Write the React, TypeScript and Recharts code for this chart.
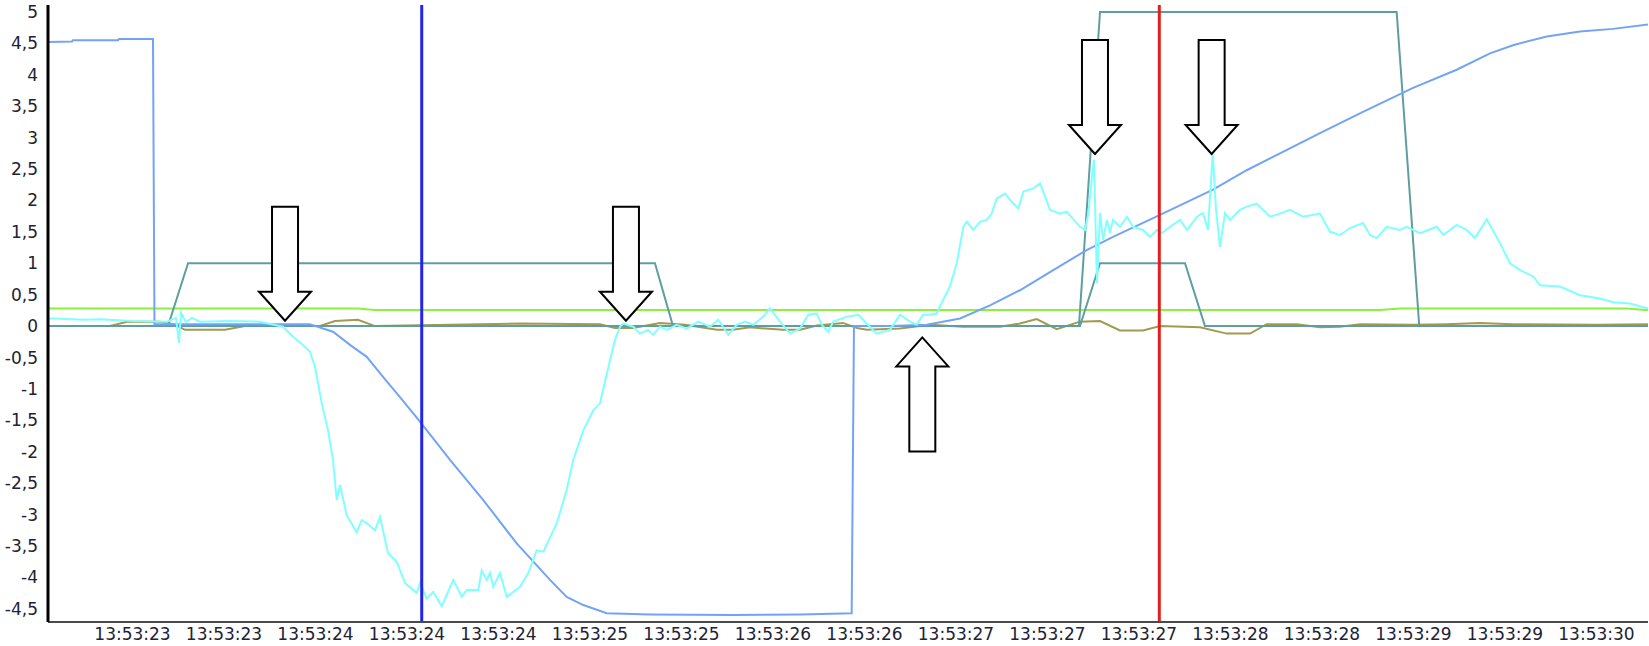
import React from "react";
import { LineChart, Line, XAxis, YAxis, ReferenceLine, ReferenceDot } from "recharts";

// x in tick-interval units (tick i <-> label i), y in signal units
const xTickLabels = [
  "13:53:23", "13:53:23", "13:53:24", "13:53:24", "13:53:24", "13:53:25",
  "13:53:25", "13:53:26", "13:53:26", "13:53:27", "13:53:27", "13:53:27",
  "13:53:28", "13:53:28", "13:53:29", "13:53:29", "13:53:30",
];
const xTicks = xTickLabels.map((_, i) => i);
const yTicks = [-4.5, -4, -3.5, -3, -2.5, -2, -1.5, -1, -0.5, 0, 0.5, 1, 1.5, 2, 2.5, 3, 3.5, 4, 4.5, 5];

const blueU = [-0.923, -0.661, -0.65, -0.158, -0.148, 0.224, 0.24, 1.94, 2.191, 2.377, 2.56, 2.738, 2.923, 3.131, 3.47, 3.834, 4.199, 4.563, 4.745, 4.927, 5.183, 5.656, 6.563, 7.295, 7.86, 7.885, 8.279, 8.68, 9.044, 9.372, 9.699, 10.063, 10.428, 10.716, 11.23, 11.809, 12.177, 12.541, 12.978, 13.448, 13.995, 14.472, 14.836, 15.087, 15.456, 15.82, 16.18, 16.563];
const blueV = [4.52, 4.53, 4.55, 4.55, 4.57, 4.57, 0.03, 0.03, -0.09, -0.3, -0.49, -0.81, -1.13, -1.5, -2.13, -2.77, -3.46, -4.04, -4.31, -4.44, -4.57, -4.59, -4.6, -4.59, -4.57, 0.0, 0.0, 0.02, 0.12, 0.33, 0.57, 0.89, 1.21, 1.42, 1.77, 2.17, 2.48, 2.75, 3.07, 3.41, 3.79, 4.08, 4.34, 4.47, 4.61, 4.69, 4.73, 4.8];

const cyanU = [-0.923, -0.847, -0.541, -0.355, 0.005, 0.377, 0.475, 0.508, 0.53, 0.585, 0.65, 0.738, 1.066, 1.393, 1.645, 1.754, 1.863, 1.94, 1.995, 2.068, 2.137, 2.191, 2.232, 2.268, 2.341, 2.45, 2.505, 2.56, 2.65, 2.705, 2.792, 2.887, 2.978, 3.106, 3.142, 3.215, 3.287, 3.379, 3.506, 3.598, 3.652, 3.779, 3.816, 3.871, 3.907, 3.943, 4.016, 4.09, 4.235, 4.326, 4.417, 4.49, 4.636, 4.745, 4.817, 4.927, 5.036, 5.109, 5.219, 5.273, 5.328, 5.364, 5.473, 5.546, 5.634, 5.689, 5.765, 5.838, 5.948, 6.057, 6.184, 6.311, 6.402, 6.511, 6.603, 6.694, 6.785, 6.894, 6.967, 7.077, 7.186, 7.295, 7.386, 7.478, 7.533, 7.604, 7.659, 7.806, 7.932, 8.024, 8.133, 8.279, 8.388, 8.497, 8.571, 8.639, 8.716, 8.789, 8.858, 8.934, 9.008, 9.08, 9.117, 9.189, 9.262, 9.336, 9.39, 9.445, 9.536, 9.59, 9.681, 9.736, 9.845, 9.918, 9.954, 10.027, 10.137, 10.21, 10.355, 10.41, 10.446, 10.49, 10.508, 10.541, 10.574, 10.607, 10.65, 10.683, 10.716, 10.792, 10.869, 10.934, 11.044, 11.12, 11.197, 11.251, 11.339, 11.448, 11.525, 11.634, 11.699, 11.754, 11.806, 11.842, 11.885, 11.94, 11.995, 12.104, 12.177, 12.286, 12.432, 12.541, 12.65, 12.792, 12.978, 13.087, 13.197, 13.306, 13.448, 13.525, 13.598, 13.707, 13.852, 13.926, 14.071, 14.254, 14.326, 14.472, 14.581, 14.672, 14.8, 14.945, 15.055, 15.164, 15.309, 15.383, 15.601, 15.82, 16.038, 16.184, 16.366, 16.563];
const cyanV = [0.12, 0.12, 0.1, 0.11, 0.08, 0.07, 0.13, -0.27, 0.21, 0.06, 0.13, 0.07, 0.08, 0.07, -0.01, -0.17, -0.3, -0.41, -0.65, -1.23, -1.66, -2.13, -2.77, -2.53, -3.01, -3.28, -3.09, -3.14, -3.25, -3.04, -3.61, -3.75, -4.09, -4.25, -4.09, -4.34, -4.23, -4.46, -4.04, -4.31, -4.2, -4.2, -3.89, -4.04, -3.93, -4.15, -3.93, -4.31, -4.15, -3.93, -3.57, -3.59, -3.14, -2.61, -2.13, -1.66, -1.34, -1.23, -0.54, -0.22, -0.01, 0.04, -0.01, -0.12, -0.06, -0.14, -0.01, -0.06, 0.02, -0.04, 0.07, -0.01, 0.1, -0.14, 0.02, 0.07, 0.02, 0.15, 0.28, 0.07, -0.12, -0.04, 0.18, 0.2, 0.02, -0.09, 0.07, 0.15, 0.18, 0.04, -0.12, -0.06, 0.18, 0.07, 0.02, 0.18, 0.18, 0.2, 0.41, 0.63, 1.0, 1.58, 1.66, 1.53, 1.66, 1.69, 1.79, 2.03, 2.11, 2.01, 1.87, 2.14, 2.19, 2.27, 2.14, 1.85, 1.79, 1.82, 1.58, 1.53, 1.79, 2.43, 2.65, 0.68, 1.8, 1.37, 1.69, 1.48, 1.69, 1.58, 1.74, 1.58, 1.53, 1.42, 1.53, 1.48, 1.58, 1.69, 1.53, 1.74, 1.8, 1.53, 2.75, 1.85, 1.26, 1.8, 1.69, 1.85, 1.9, 1.95, 1.74, 1.79, 1.85, 1.74, 1.79, 1.5, 1.45, 1.56, 1.64, 1.45, 1.4, 1.58, 1.53, 1.58, 1.48, 1.58, 1.45, 1.61, 1.53, 1.4, 1.7, 1.32, 1.0, 0.89, 0.79, 0.65, 0.63, 0.49, 0.44, 0.38, 0.36, 0.28];

const tealLowU = [-0.923, 0.388, 0.607, 5.71, 5.907, 10.355, 10.574, 11.503, 11.721, 16.563];
const tealLowV = [0, 0, 1, 1, 0, 0, 1, 1, 0, 0];

const tealHighU = [-0.923, 10.344, 10.574, 13.816, 14.063, 16.563];
const tealHighV = [0, 0, 5, 5, 0, 0];

const greenU = [-0.923, 2.464, 2.65, 13.634, 13.852, 16.333, 16.53, 16.563];
const greenV = [0.28, 0.28, 0.255, 0.255, 0.28, 0.28, 0.255, 0.255];

const oliveU = [-0.923, -0.246, -0.06, 0.301, 0.464, 0.574, 1.011, 1.23, 2.049, 2.213, 2.464, 2.65, 3.47, 4.235, 5.109, 5.273, 5.47, 5.765, 6.038, 6.388, 6.563, 6.749, 7.109, 7.295, 7.481, 7.765, 7.918, 8.027, 8.388, 8.716, 9.077, 9.481, 9.699, 9.882, 10.101, 10.355, 10.574, 10.792, 11.044, 11.23, 11.667, 11.959, 12.213, 12.396, 12.723, 12.978, 13.197, 13.415, 13.995, 14.363, 14.727, 15.087, 16.005, 16.563];
const oliveV = [0, 0, 0.07, 0.07, 0.02, -0.06, -0.06, 0, 0, 0.08, 0.1, 0, 0.02, 0.04, 0.03, -0.03, -0.03, 0.05, 0.02, -0.06, -0.06, -0.02, -0.06, -0.06, 0.01, 0.05, -0.03, -0.06, -0.04, 0.02, -0.01, -0.01, 0.04, 0.11, -0.05, 0.07, 0.08, -0.07, -0.07, 0, -0.02, -0.12, -0.12, 0.03, 0.03, -0.02, -0.01, 0.03, 0.02, 0.03, 0.05, 0.03, 0.02, 0.03];

const cursorBlueX = 3.161;
const cursorRedX = 11.222;

// arrow annotations: tip position and direction
const arrowU = [1.667, 5.393, 8.632, 10.519, 11.794];
const arrowV = [0.084, 0.084, -0.18, 2.739, 2.739];
const arrowDir = ["down", "down", "up", "down", "down"];

const toPoints = (us: number[], vs: number[]) => us.map((u, i) => ({ u, v: vs[i] }));

const blueData = toPoints(blueU, blueV);
const cyanData = toPoints(cyanU, cyanV);
const tealLowData = toPoints(tealLowU, tealLowV);
const tealHighData = toPoints(tealHighU, tealHighV);
const greenData = toPoints(greenU, greenV);
const oliveData = toPoints(oliveU, oliveV);

const ArrowShape = (props: any) => {
  const { cx, cy, dir } = props;
  if (cx == null || cy == null) return null;
  const s = dir === "up" ? -1 : 1;
  const headH = 29;
  const headW = 26;
  const shaftW = 13;
  const len = 114;
  const d = [
    `M ${cx} ${cy}`,
    `L ${cx - headW} ${cy - s * headH}`,
    `L ${cx - shaftW} ${cy - s * headH}`,
    `L ${cx - shaftW} ${cy - s * len}`,
    `L ${cx + shaftW} ${cy - s * len}`,
    `L ${cx + shaftW} ${cy - s * headH}`,
    `L ${cx + headW} ${cy - s * headH}`,
    "Z",
  ].join(" ");
  return <path d={d} fill="#ffffff" stroke="#000000" strokeWidth={2} strokeLinejoin="miter" />;
};

const fmtY = (v: number) => String(v).replace(".", ",");

export default function App() {
  return (
    <div style={{ position: "absolute", left: 0, top: 0, background: "#ffffff" }}>
      <LineChart width={1649} height={646} margin={{ top: 5, right: 1, bottom: 0, left: 0 }}>
        <XAxis
          type="number"
          dataKey="u"
          domain={[-0.9235, 16.563]}
          allowDataOverflow
          ticks={xTicks}
          interval={0}
          tickFormatter={(i: number) => xTickLabels[i] ?? ""}
          height={24}
          tickLine={false}
          tickSize={0}
          tickMargin={6}
          axisLine={{ stroke: "#4a4a4a", strokeWidth: 2 }}
          tick={{ fill: "#222233", fontSize: 17, fontFamily: "DejaVu Sans" }}
        />
        <YAxis
          type="number"
          domain={[-4.71, 5.11]}
          allowDataOverflow
          ticks={yTicks}
          interval={0}
          tickFormatter={fmtY}
          width={48}
          tickLine={false}
          tickSize={0}
          tickMargin={10}
          axisLine={{ stroke: "#000000", strokeWidth: 3 }}
          tick={{ fill: "#222233", fontSize: 17, fontFamily: "DejaVu Sans" }}
        />
        <Line data={greenData} dataKey="v" type="linear" stroke="#8cf040" strokeWidth={2} dot={false} activeDot={false} isAnimationActive={false} />
        <Line data={oliveData} dataKey="v" type="linear" stroke="#a39a52" strokeWidth={2} dot={false} activeDot={false} isAnimationActive={false} />
        <Line data={tealLowData} dataKey="v" type="linear" stroke="#5f9ea0" strokeWidth={2} dot={false} activeDot={false} isAnimationActive={false} />
        <Line data={tealHighData} dataKey="v" type="linear" stroke="#5f9ea0" strokeWidth={2} dot={false} activeDot={false} isAnimationActive={false} />
        <Line data={blueData} dataKey="v" type="linear" stroke="#74a3f6" strokeWidth={2} dot={false} activeDot={false} isAnimationActive={false} />
        <Line data={cyanData} dataKey="v" type="linear" stroke="#80ffff" strokeWidth={2} dot={false} activeDot={false} isAnimationActive={false} />
        <ReferenceLine x={cursorBlueX} stroke="#2323ee" strokeWidth={3} />
        <ReferenceLine x={cursorRedX} stroke="#e0201e" strokeWidth={3} />
        {arrowU.map((u, i) => (
          <ReferenceDot
            key={i}
            x={u}
            y={arrowV[i]}
            r={1}
            shape={(p: any) => <ArrowShape {...p} dir={arrowDir[i]} />}
          />
        ))}
      </LineChart>
    </div>
  );
}
